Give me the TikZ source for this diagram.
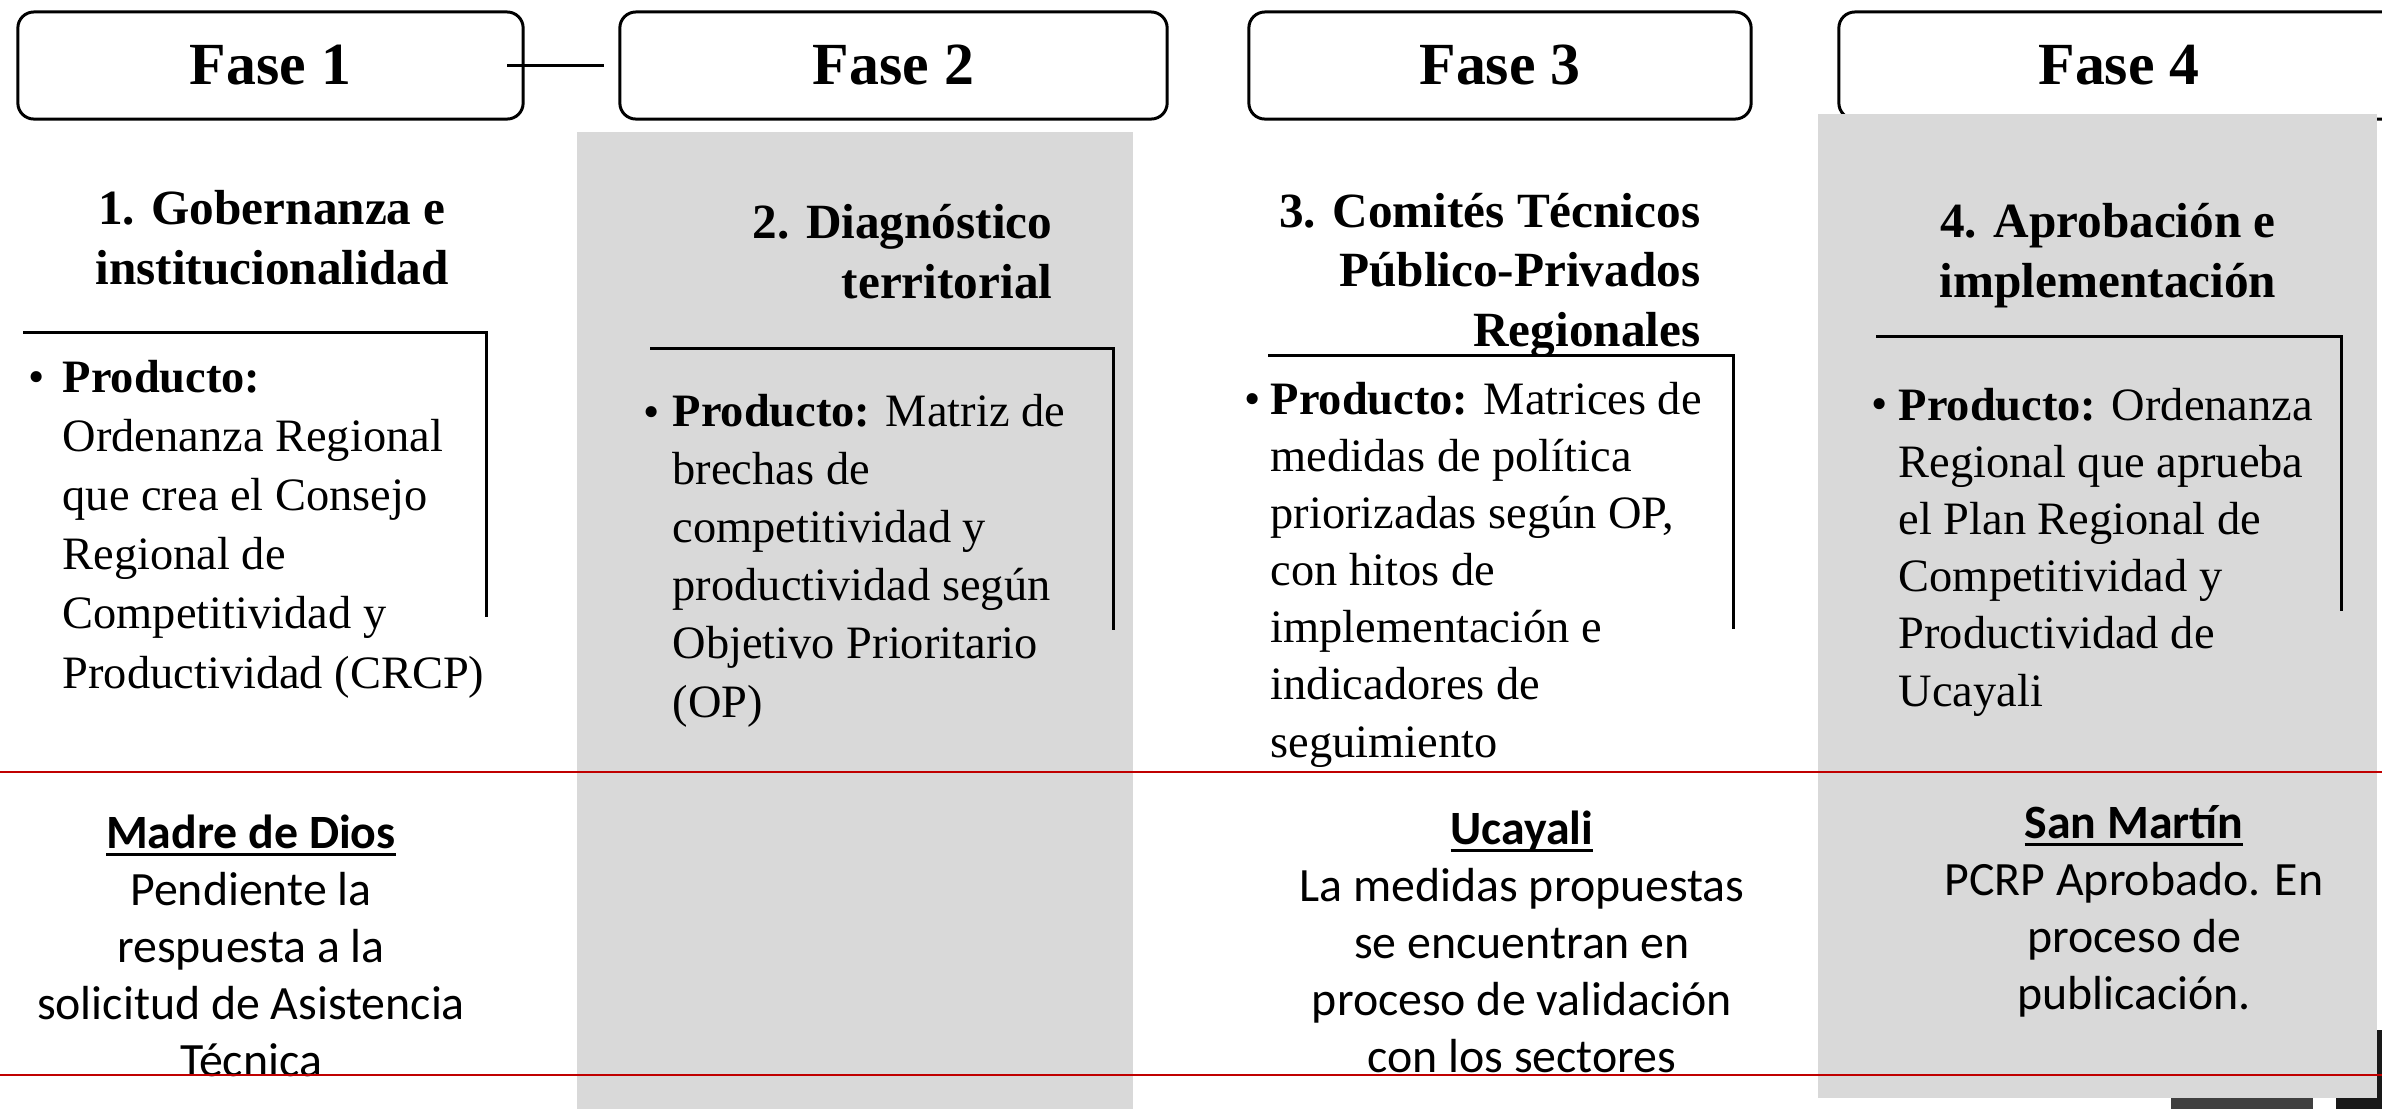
\documentclass[tikz,border=0pt]{standalone}
\usepackage{fontspec}
\setmainfont{Liberation Serif}
\newfontfamily\sansf{Carlito}
\definecolor{graybg}{HTML}{D9D9D9}
\definecolor{redln}{HTML}{C00000}
\definecolor{darkbit}{HTML}{404040}
\newcommand\myul[1]{\setbox0\hbox{#1}\rlap{\rule[-2.2pt]{\wd0}{0.7pt}}\box0}
\begin{document}
\begin{tikzpicture}[x=0.01cm,y=-0.01cm,
  fasebox/.style={draw, line width=0.85pt, rounded corners=0.16cm, inner sep=0pt,
    minimum height=1.07cm, text height=11pt, text depth=0pt,
    font=\fontsize{17}{20}\selectfont\bfseries},
  link/.style={line width=0.85pt},
  bracket/.style={line width=0.85pt, line join=miter},
  head/.style={inner sep=0pt, anchor=base, font=\fontsize{14}{16.8}\selectfont\bfseries},
  body/.style={inner sep=0pt, anchor=base west, align=left},
  bul/.style={inner sep=0pt, anchor=base west, font=\fontsize{13.2}{16.5}\selectfont},
  state/.style={inner sep=0pt, anchor=base, align=center, font=\sansf\fontsize{13.6}{16.2}\selectfont},
  redline/.style={draw=redln, line width=0.7pt}]
\useasboundingbox (0,0) rectangle (2382,1108);
% phase boxes
\node[fasebox, minimum width=5.05cm] (f1) at (270.5,65.5) {Fase 1};
\node[fasebox, minimum width=5.47cm] (f2) at (893.5,65.5) {Fase 2};
\node[fasebox, minimum width=5.02cm] (f3) at (1500,65.5) {Fase 3};
\node[fasebox, minimum width=5.60cm] (f4) at (2119,65.5) {Fase 4};
\coordinate (c1) at (507,65);
\coordinate (c2) at (604,65);
\draw[link] (c1) -- (c2);
% page leftovers at the bottom right
\fill[black!90] (2336,1030) rectangle (2400,1120);
\fill[darkbit] (2171,1097) rectangle (2313,1120);
% shaded columns
\fill[graybg] (577,132) rectangle (1133,1120);
\fill[graybg] (1818,114) rectangle (2377,1098);
% brackets
\draw[bracket] (23,332) -- (486,332) -- (486,617);
\draw[bracket] (650,348) -- (1113,348) -- (1113,630);
\draw[bracket] (1268,355) -- (1733,355) -- (1733,629);
\draw[bracket] (1876,336) -- (2341,336) -- (2341,611);
% headings (anchor at the baseline of the last line)
\node[head, align=center] (h1) at (272,284) {1. Gobernanza e\\institucionalidad};
\node[head, align=right, anchor=base east] (h2) at (1053,298) {2. Diagnóstico\\territorial};
\node[head, align=right, anchor=base east] (h3) at (1701,346) {3. Comités Técnicos\\Público-Privados\\Regionales};
\node[head, align=center] (h4) at (2108,297) {4. Aprobación e\\implementación};
% bullets
\node[bul] (u1) at (28,392) {•};
\node[bul] (u2) at (643,427) {•};
\node[bul] (u3) at (1244,414) {•};
\node[bul] (u4) at (1871,419) {•};
% products (anchor at the baseline of the last line)
\node[body, font=\fontsize{13.2}{16.8}\selectfont] (p1) at (62,688) {\textbf{Producto:}\\Ordenanza Regional\\que crea el Consejo\\Regional de\\Competitividad y\\Productividad (CRCP)};
\node[body, font=\fontsize{13.2}{16.5}\selectfont] (p2) at (672,717) {\textbf{Producto:} Matriz de\\brechas de\\competitividad y\\productividad según\\Objetivo Prioritario\\(OP)};
\node[body, font=\fontsize{13.2}{16.22}\selectfont] (p3) at (1270,757) {\textbf{Producto:} Matrices de\\medidas de política\\priorizadas según OP,\\con hitos de\\implementación e\\indicadores de\\seguimiento};
\node[body, font=\fontsize{13.2}{16.25}\selectfont] (p4) at (1898,706) {\textbf{Producto:} Ordenanza\\Regional que aprueba\\el Plan Regional de\\Competitividad y\\Productividad de\\Ucayali};
% regional status (anchor at the baseline of the last line)
\node[state] (s1) at (251,1076) {\myul{\textbf{Madre de Dios}}\\Pendiente la\\respuesta a la\\solicitud de Asistencia\\Técnica};
\node[state] (s3) at (1522,1072) {\myul{\textbf{Ucayali}}\\La medidas propuestas\\se encuentran en\\proceso de validación\\con los sectores};
\node[state] (s4) at (2134,1009) {\myul{\textbf{San Martín}}\\PCRP Aprobado. En\\proceso de\\publicación.};
% red guide lines
\coordinate (r1a) at (0,772); \coordinate (r1b) at (2382,772);
\coordinate (r2a) at (0,1075); \coordinate (r2b) at (2382,1075);
\draw[redline] (r1a) -- (r1b);
\draw[redline] (r2a) -- (r2b);
\end{tikzpicture}
\end{document}
